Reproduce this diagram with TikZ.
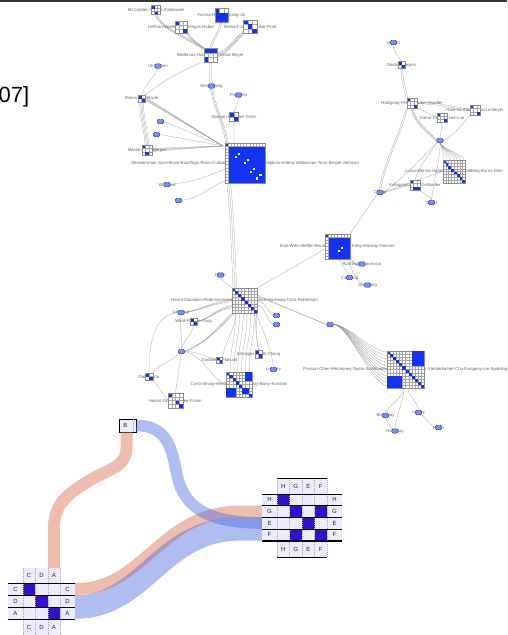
\documentclass[tikz,border=0pt]{standalone}
\usepackage{fontspec}
\setmainfont{Liberation Sans}
\usetikzlibrary{calc}
\pgfdeclarelayer{bgl}
\pgfdeclarelayer{edges}
\pgfsetlayers{bgl,edges,main}
\definecolor{nblue}{RGB}{20,50,245}
\definecolor{nlight}{RGB}{120,145,240}
\definecolor{lav}{RGB}{236,236,250}
\definecolor{dblue}{RGB}{52,16,204}
\definecolor{bblue}{RGB}{80,110,225}
\definecolor{bpink}{RGB}{225,125,95}
\definecolor{egray}{RGB}{150,150,150}
\tikzset{
  edge/.style={draw=egray, line width=0.22pt},
  lbl/.style={font=\fontsize{4.3}{5}\selectfont, text=black!60, inner sep=0pt},
  netnd/.style={draw=nblue, fill=nlight, rounded corners=1.5pt, minimum width=6.5pt, minimum height=4.5pt, inner sep=0pt, line width=0.4pt},
  mtx/.style={draw=black!45, fill=white, inner sep=0pt, outer sep=0pt, line width=0.3pt},
  gridl/.style={draw=black!35, line width=0.15pt},
  bandb/.style={draw=bblue, draw opacity=0.45, line cap=butt},
  bandp/.style={draw=bpink, draw opacity=0.5, line cap=butt},
  mlab/.style={font=\fontsize{6}{6}\selectfont, text=black!85, inner sep=0pt},
  sepl/.style={draw=black!35, dash pattern=on 1pt off 1pt, line width=0.3pt},
}
\newcommand\mynode[3]{%
  \node[lbl] (#1-l) at #2 {#3};
  \node[netnd] (#1) at #2 {};}
\newcommand\mymat[6]{%
  \node[lbl] (#1-l) at #2 {#6};
  \node[mtx, minimum size={#3*#4}] (#1) at #2 {};
  \begin{scope}[shift={(#1.north west)}]
    \pgfmathtruncatemacro\mymN{#3-1}
    \foreach \kk in {1,...,\mymN}{%
      \draw[gridl] ({\kk*#4},0) -- ++(0,{#3*#4});
      \draw[gridl] (0,{\kk*#4}) -- ++({#3*#4},0);}
    \foreach \ma/\mb in {#5}
      {\fill[nblue] ({(\mb-1)*#4},{(\ma-1)*#4}) rectangle ++(#4,#4);}
    \draw[mtx,fill=none] (0,0) rectangle ({#3*#4},{#3*#4});
  \end{scope}}
\newcommand\myfull[6]{%
  \node[lbl] (#1-l) at #2 {#6};
  \node[mtx, minimum size={#3*#4}] (#1) at #2 {};
  \begin{scope}[shift={(#1.north west)}]
    \fill[nblue] (#4,#4) rectangle ({#3*#4},{#3*#4});
    \fill[nblue] (0,0) rectangle (#4,#4);
    \foreach \ma/\mb in {#5}
      {\fill[white] ({(\mb-1)*#4+0.4},{(\ma-1)*#4+0.4}) rectangle ++({#4-0.8},{#4-0.8});}
    \pgfmathtruncatemacro\mymN{#3-1}
    \foreach \kk in {1,...,\mymN}{%
      \draw[gridl] ({\kk*#4},0) -- ++(0,#4);
      \draw[gridl] (0,{\kk*#4}) -- ++(#4,0);}
    \draw[gridl] (#4,0) -- (#4,{#3*#4});
    \draw[gridl] (0,#4) -- ({#3*#4},#4);
    \draw[mtx,fill=none] (0,0) rectangle ({#3*#4},{#3*#4});
  \end{scope}}
\newcommand\myblk[6]{%
  \fill[nblue] ($(#1.north west)+({(#4-1)*#2},{(#3-1)*#2})$) rectangle ($(#1.north west)+({#6*#2},{#5*#2})$);}
\begin{document}
\begin{tikzpicture}[x=1pt,y=-1pt]
\useasboundingbox (0,0) rectangle (507,635);
\begin{pgfonlayer}{bgl}
\fill[white] (0,0) rectangle (507,635);
\end{pgfonlayer}
\draw[line width=1.6pt, black!80] (0,0.8) -- (507,0.8);
\node[anchor=base west, font=\fontsize{22}{22}\selectfont, inner sep=0pt] (cite) at (-1.5,102) {07]};

% ---------- upper network: top-left cluster
\mymat{mc}{(156,10)}{3}{3}{1/1,3/2}{McCanden-Gorlitz-Zolotowski}
\mymat{fu}{(221.5,15)}{3}{4.5}{1/1,2/1,2/2,2/3,3/1,3/2,3/3}{Furnas-Rauch-Zhang-Jul}
\mymat{hf}{(181,27)}{3}{4}{1/1,3/3}{Heffnan-Wattenberg-Viegas-Huber}
\mymat{st}{(250,26.5)}{3}{4.5}{1/1,2/2,3/3}{Stewart-Jones-Lauber-Pratt}
\mymat{bd}{(210.5,55)}{3}{4.5}{1/1,1/2,1/3,3/1}{Bederson-Hutchinson-Good-Meyer}
\mynode{ul}{(158,66)}{Ulrichman}
\mynode{hb}{(211.5,86)}{Heinenberg}
\mynode{pl}{(238.5,95)}{Prasanar}
\mymat{pb}{(141.5,98.5)}{2}{3.5}{1/1,2/2}{Pierce-Hsu-Boyle}
\mymat{no}{(234,117)}{2}{4.5}{1/1,2/2}{Norman-Lindsam-Gahn}
\mynode{u1}{(160.5,121.5)}{}
\mynode{u2}{(156.5,134.5)}{}
\mymat{mi}{(147,150)}{3}{3.3}{1/1,3/2}{Milash-Kang-Berger}
\myfull{big}{(245,163)}{13}{3.08}{4/5,5/4,6/8,7/7,9/10,10/9,11/12,12/11}{Shneiderman-Jain-Hiland-Bstaffogo-Rivlin-Cullcannon-Plaisant-Rowe-Hopkins-Arberg-Williamson-Tann-Bergel-Johnson}
\mynode{wi}{(167,184.5)}{Wienand}
\mynode{u3}{(178.5,200.5)}{}

% ---------- right cluster
\mynode{vx}{(393.5,42.5)}{Vozder}
\mymat{go}{(401.5,65)}{2}{3.5}{1/1,2/2}{Gordon-Meyers}
\mymat{ho}{(412,103)}{3}{3.3}{1/1,3/3}{Holzgang-Fekete-Auber-Mueller}
\mymat{ha}{(475,110)}{3}{3.3}{1/1,3/3}{Ramma-Stasko-Mazza-Meyer}
\mymat{ga}{(442,117.5)}{3}{3.2}{1/1,3/3}{Gama-Daniels-Lee-Luo}
\mynode{n22}{(440,140.5)}{}
\mymat{lu}{(454,171.5)}{8}{2.8}{1/1,2/2,3/3,4/4,5/5,6/6,7/7,8/8}{Lucas-Bernal-Upper-Thomas-Goldberg-Burns-Dinh}
\mymat{kl}{(415,185)}{3}{3.3}{1/1,3/2,3/3}{Kologyanos-Frisch-Mueller}
\mynode{ch}{(380,192.5)}{Chong}
\mynode{ta}{(431.5,202.5)}{Tatlier}

% ---------- middle
\myfull{ek}{(337.5,246.5)}{8}{3.1}{5/6,6/5}{Eick-Wills-Steffen-Baumann-Graham-Kirby-Mackay-Gennon}
\mynode{fr}{(362,264)}{Rushinger-Lavecour}
\mynode{ca}{(349.5,277.5)}{Carlsand}
\mynode{gr}{(367.5,285)}{Gonzberg}
\mynode{he}{(220.5,275)}{Hosin}
\mymat{hd}{(244.5,300.5)}{8}{3.1}{1/1,2/2,3/3,4/4,5/5,6/6,7/7,8/8}{Heard-Mausden-Pedersen-Mackinlay-Kolojejchick-Hashway-Cara-Robertson}
\mynode{le}{(181,312.5)}{Lamping}
\mymat{tm}{(193.5,321.5)}{2}{3.5}{1/1,2/2}{Ward-Rundin-Yang}
\mynode{n35}{(276.5,315.5)}{Lia}
\mynode{n36}{(276.5,324.5)}{}
\mynode{n37}{(330,324.5)}{}
\mynode{n38}{(181.5,351.5)}{}
\mymat{gc}{(219.5,360)}{2}{3}{1/1,2/2}{Goodchild-Plaisant}
\mymat{ze}{(258.5,354)}{2}{3.8}{1/1,2/2}{Zelsinger-Pirolli-Chang}
\mynode{lm}{(273.5,369.5)}{Lumsey}
\mymat{cs}{(239,384.5)}{8}{3.2}{1/1,2/2,3/3,4/4,5/5,8/8}{Carlo-Shoop-Weidth-Grinstein-Bary-Barry-Kondian}
\myblk{cs}{3.2}{1}{7}{3}{8}
\myblk{cs}{3.2}{6}{1}{8}{3}
\myblk{cs}{3.2}{6}{6}{7}{7}
\mymat{da}{(149,376.5)}{2}{3.7}{1/1,2/2}{Dalli-Maria}
\mymat{hs}{(175.5,400.5)}{4}{3.75}{1/1,3/3,4/4}{Hearst-Drucker-Sree-Fisher}
\mymat{px}{(405.5,369.5)}{12}{3.1}{1/1,2/2,3/3,4/4,5/5,6/6,7/7,8/8,9/9,10/10,11/11,12/12}{Paxson-Chen-Wetmoney-Taylor-Su-Woodruff-Aiken-Stonebraker-Vanderkamer-Chu-Ewageoy-Lin-Spalding}
\myblk{px}{3.1}{1}{9}{5}{12}
\myblk{px}{3.1}{9}{1}{12}{5}
\mynode{bw}{(385.5,415.5)}{Barthway}
\mynode{hl}{(395,431)}{Hollaway}
\mynode{lk}{(418.5,412.5)}{Lokaly}
\mynode{n49}{(438.5,427.5)}{Hado}

\begin{pgfonlayer}{edges}
\coordinate (bigc) at ($(big.north west)+(-2,3)$);
\coordinate (bigtl) at ($(big.north west)+(2,0)$);
\foreach \oo in {-1.2,0,1.2} \draw[edge] ([xshift=\oo pt]mc.south) .. controls +(4,14) and +(-12,-8) .. ([yshift=\oo pt]bd.north west);
\foreach \oo in {-1.2,0,1.2} \draw[edge] ([xshift=\oo pt]hf.south east) .. controls +(6,8) and +(-8,-5) .. ([xshift=\oo pt]bd.north west);
\foreach \oo in {-0.8,0.8} \draw[edge] ([xshift=\oo pt]fu.south) .. controls +(-2,10) and +(4,-12) .. ([xshift=\oo pt]bd.north);
\foreach \oo in {-2,-0.7,0.7,2} \draw[edge] ([yshift=\oo pt]st.south west) .. controls +(-10,8) and +(12,-4) .. ([yshift=\oo pt]bd.east);
\draw[edge] (bd.south west) .. controls +(-25,10) and +(20,-15) .. (pb.north east);
\draw[edge] (ul.south) .. controls +(-4,10) and +(4,-12) .. (pb.north);
\foreach \oo in {-1,1} \draw[edge] ([xshift=\oo pt]bd.south) .. controls +(0,8) and +(-2,-8) .. ([xshift=\oo pt]hb.north);
\foreach \oo in {-1.2,0,1.2} \draw[edge] ([xshift=\oo pt]hb.south) .. controls +(3,20) and +(-3,-20) .. ([xshift=\oo pt]bigtl);
\draw[edge] (pl.south) .. controls +(0,6) and +(2,-6) .. (no.north);
\draw[edge] (no.south) .. controls +(0,8) and +(0,-8) .. ($(big.north west)+(9,0)$);
\foreach \oo in {-1.8,-0.6,0.6,1.8} \draw[edge] ([xshift=\oo pt]pb.south) .. controls +(0,15) and +(-1,-15) .. ([xshift=\oo pt]mi.north);
\foreach \oo in {-1.5,-0.5,0.5,1.5} \draw[edge] ([yshift=\oo pt]pb.east) -- (bigc);
\draw[edge] (u1.east) -- (bigc);
\draw[edge] (u2.east) -- (bigc);
\foreach \oo in {-1.5,-0.5,0.5,1.5} \draw[edge] ([yshift=\oo pt]mi.east) -- (bigc);
\draw[edge] (wi.east) .. controls +(25,-3) and +(-20,8) .. ($(big.west)+(0,6)$);
\draw[edge] (u3.east) .. controls +(20,-3) and +(-15,5) .. ($(big.south west)+(0,-2)$);
\foreach \oo in {2,3.8,5.6} \draw[edge] ($(big.south west)+(\oo,0)$) .. controls +(4,40) and +(-2,-40) .. ($(hd.north west)+(\oo-1,0)$);
% right cluster
\draw[edge] (vx.south) .. controls +(0,8) and +(-3,-6) .. (go.north);
\foreach \oo in {-0.8,0.8} \draw[edge] ([xshift=\oo pt]go.south) .. controls +(1,12) and +(-3,-12) .. ([xshift=\oo pt]ho.north west);
\foreach \oo in {-0.8,0.8} \draw[edge] ([yshift=\oo pt]ho.east) .. controls +(20,0) and +(-20,-3) .. ([yshift=\oo pt]ha.west);
\draw[edge] (ho.south east) .. controls +(8,2) and +(-8,-2) .. (ga.west);
\foreach \oo in {-1.2,0,1.2} \draw[edge] ([xshift=\oo pt]ho.south) .. controls +(3,15) and +(-12,-12) .. ([yshift=\oo pt]n22.west);
\draw[edge] (ga.south) .. controls +(0,8) and +(1,-8) .. (n22.north);
\draw[edge] (ha.south west) .. controls +(-10,12) and +(10,-5) .. (n22.east);
\foreach \ff in {0.05,0.2,0.35,0.5,0.65,0.8,0.95} \draw[edge] (n22.south) .. controls +(2,6) and +(0,-6) .. ($(lu.north west)!\ff!(lu.north east)$);
\foreach \oo in {-0.8,0.8} \draw[edge] ([xshift=\oo pt]ho.south west) .. controls +(-8,30) and +(5,-30) .. ([xshift=\oo pt]ch.north);
\draw[edge] (n22.south west) .. controls +(-20,20) and +(20,-15) .. (ch.east);
\draw[edge] (n22.south west) .. controls +(-10,15) and +(5,-15) .. (kl.north);
\draw[edge] (kl.west) -- (ch.east);
\draw[edge] (ch.east) .. controls +(20,-8) and +(-15,5) .. (lu.west);
\draw[edge] (kl.south east) .. controls +(4,4) and +(-2,-4) .. (ta.north);
\draw[edge] (n22.south) .. controls +(0,20) and +(2,-20) .. (ta.north);
\draw[edge] (ch.south west) -- (ek.north east);
% middle
\draw[edge] ($(ek.north west)!0.6!(ek.south west)$) -- (hd.north east);
\foreach \oo in {0,1} \draw[edge] ([yshift=-\oo pt]ek.south east) .. controls +(5,2) and +(-5,2) .. (fr.west);
\draw[edge] ($(ek.south)+(3,0)$) .. controls +(0,8) and +(-3,-6) .. (ca.north);
\draw[edge] ($(ek.south east)+(-2,0)$) .. controls +(3,10) and +(-8,-3) .. (gr.west);
\draw[edge] (hd.north west) .. controls +(-5,-5) and +(3,5) .. (he.south);
\foreach \oo in {-1.2,0,1.2} \draw[edge] ([yshift=\oo pt]hd.west) .. controls +(-20,2) and +(15,-2) .. (le.east);
\coordinate (hdw2) at ($(hd.west)+(0,6)$);
\foreach \oo in {-1.2,0,1.2} \draw[edge] ([yshift=\oo pt]hdw2) .. controls +(-15,2) and +(12,-2) .. (tm.east);
\draw[edge] (hd.east) .. controls +(8,0) and +(-6,-4) .. (n35.west);
\draw[edge] ($(hd.east)+(0,4)$) .. controls +(8,2) and +(-6,-4) .. (n36.west);
\foreach \oo in {-1,0} \draw[edge] ($(hd.north east)+(0,8+\oo)$) -- (n37.west);
\foreach \ff in {0.03,0.12,0.21,0.3,0.39,0.48,0.57,0.66,0.75,0.84,0.93} \draw[edge] (n37.east) .. controls +(15,0) and +(-15,0) .. ($(px.north west)!\ff!(px.south west)$);
\foreach \ff in {0.15,0.3,0.45,0.6,0.75,0.9} \draw[edge] ($(hd.south west)!\ff!(hd.south east)$) .. controls +(0,25) and +(0,-25) .. ($(cs.north west)!\ff!(cs.north east)$);
\foreach \oo in {1,2.5} \draw[edge] ($(hd.south east)+(-\oo,0)$) .. controls +(2,15) and +(-3,-15) .. (ze.north);
\draw[edge] ($(hd.south east)+(-1,0)$) .. controls +(8,20) and +(-3,-20) .. (lm.north);
\draw[edge] ($(hd.south west)+(4,0)$) .. controls +(-2,20) and +(4,-20) .. (gc.north east);
\foreach \oo in {0,1.5,3} \draw[edge] ($(hd.south west)+(\oo,0)$) .. controls +(-15,15) and +(20,-8) .. (n38.east);
\draw[edge] (n38.south west) .. controls +(-10,10) and +(8,-10) .. (da.north east);
\draw[edge] (n38.south) .. controls +(-3,15) and +(2,-15) .. (hs.north);
\draw[edge] (n38.east) .. controls +(15,0) and +(-10,-2) .. (gc.west);
\draw[edge] (n38.east) .. controls +(20,5) and +(-15,-5) .. (cs.west);
\draw[edge] (tm.south) .. controls +(-2,10) and +(3,-10) .. (n38.north);
\draw[edge] (le.south) .. controls +(-2,10) and +(1,-10) .. (n38.north);
\draw[edge] (le.west) .. controls +(-25,2) and +(0,-25) .. (da.north);
\draw[edge] (da.south east) .. controls +(8,8) and +(-5,-5) .. (hs.west);
\draw[edge] ($(px.south)+(-2,0)$) .. controls +(0,10) and +(5,-10) .. (bw.north);
\draw[edge] ($(px.south)+(-1,0)$) .. controls +(-2,15) and +(2,-15) .. (hl.north);
\draw[edge] ($(px.south)+(2,0)$) .. controls +(2,10) and +(-2,-10) .. (lk.north);
\draw[edge] (lk.south east) .. controls +(5,5) and +(-5,-3) .. (n49.west);
\draw[edge] (bw.south) .. controls +(2,5) and +(-2,-5) .. (hl.north west);
\end{pgfonlayer}

% ---------- bottom: link bands
\node[draw=black, line width=0.5pt, fill=lav, minimum width=17pt, minimum height=13pt, inner sep=0pt] (Bbox) at (127.5,425.5) {};
\coordinate (Bout) at (Bbox.east);
\coordinate (Bbot) at (126.5,432);
\coordinate (LAtop) at (53.83,568);
\coordinate (LrowC) at (75,589);
\coordinate (LrowDA) at (75,607);
\coordinate (RrowG) at (262,511.4);
\coordinate (RrowE) at (262,523);
\coordinate (RrowEF) at (262,528.9);
\draw[bandp, line width=12pt] (Bbot) -- ++(0,16) .. controls +(0,20) and +(18,-12) .. (87,482) .. controls +(-22,14) and +(0,-25) .. (53.83,530) -- (LAtop);
\draw[bandp, line width=11.6pt] (LrowC) .. controls +(70,0) and +(-80,0) .. (240,511.4) -- (RrowG);
\draw[bandb, line width=23.5pt] (LrowDA) .. controls +(70,0) and +(-80,0) .. (240,528.9) -- (RrowEF);
\draw[bandb, line width=11.6pt] (Bout) .. controls +(32,0) and +(-5,-25) .. (177,475) .. controls +(6,30) and +(-57,0) .. (RrowE);
\draw[sepl] (133,419) -- (133,432);
\node[mlab] (Blab) at (125.5,425.5) {B};

% ---------- left matrix
\fill[lav] (23,568) rectangle (60,635);
\fill[lav] (8,583) rectangle (75,619);
\fill[dblue] (23,583) rectangle (35.33,595);
\fill[dblue] (35.33,595) rectangle (47.67,607);
\fill[dblue] (47.67,607) rectangle (60,619);
\foreach \xx in {23,35.33,47.67,60} \draw[sepl] (\xx,568) -- (\xx,635);
\draw[black, line width=0.4pt] (8,583) -- (75,583);
\draw[black, line width=0.7pt] (8,595) -- (75,595);
\draw[black, line width=0.7pt] (8,607) -- (75,607);
\draw[black, line width=1.3pt] (8,619.5) -- (75,619.5);
\foreach \L [count=\k] in {C,D,A} {
  \pgfmathsetmacro\cx{23+12.333*(\k-0.5)}
  \pgfmathsetmacro\ry{583+12*(\k-0.5)}
  \node[mlab] (LT\k) at (\cx,575.5) {\L};
  \node[mlab] (LB\k) at (\cx,627.5) {\L};
  \node[mlab] (LL\k) at (15.5,\ry) {\L};
  \node[mlab] (LR\k) at (67.5,\ry) {\L};
}

% ---------- right matrix
\fill[lav] (277,478) rectangle (327,557);
\fill[lav] (262,494) rectangle (342,540.5);
\foreach \ma/\mb in {1/1,2/2,2/4,3/3,4/2,4/4}
  \fill[dblue] ({277+12.5*(\mb-1)},{494+11.625*(\ma-1)}) rectangle ++(12.5,11.625);
\foreach \xx in {277,289.5,302,314.5,327} \draw[sepl] (\xx,478) -- (\xx,557);
\draw[black, line width=0.4pt] (277,478) -- (327,478);
\draw[black, line width=0.4pt] (262,494) -- (342,494);
\draw[black, line width=0.7pt] (262,505.6) -- (342,505.6);
\draw[black, line width=0.7pt] (262,517.25) -- (342,517.25);
\draw[black, line width=0.7pt] (262,528.9) -- (342,528.9);
\draw[black, line width=1.3pt] (262,541) -- (342,541);
\draw[black, line width=0.4pt] (277,557) -- (327,557);
\foreach \L [count=\k] in {H,G,E,F} {
  \pgfmathsetmacro\cx{277+12.5*(\k-0.5)}
  \pgfmathsetmacro\ry{494+11.625*(\k-0.5)}
  \node[mlab] (RT\k) at (\cx,486) {\L};
  \node[mlab] (RB\k) at (\cx,549) {\L};
  \node[mlab] (RL\k) at (269.5,\ry) {\L};
  \node[mlab] (RR\k) at (334.5,\ry) {\L};
}
\end{tikzpicture}
\end{document}
